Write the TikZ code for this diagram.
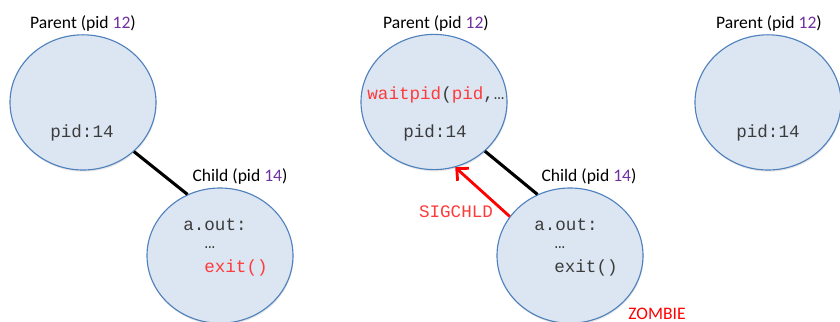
\documentclass[tikz,border=0pt]{standalone}
\usepackage{fontspec}
\setmainfont{Carlito}
\newfontfamily\codefont{Liberation Mono}
\usepackage{tikz}
\usetikzlibrary{arrows.meta,shapes.geometric,shadows}
\definecolor{procfill}{HTML}{DCE6F2}
\definecolor{procline}{HTML}{4F81BD}
\definecolor{pidpurple}{HTML}{7030A0}
\definecolor{sigred}{HTML}{FF0000}
\definecolor{codered}{HTML}{FF3A3A}
\definecolor{codegray}{HTML}{3C3C3C}
\tikzset{
  proc/.style={ellipse,draw=procline,fill=procfill,line width=0.8pt,minimum width=3.65cm,minimum height=3.38cm,inner sep=0pt,
    drop shadow={opacity=0.2,shadow xshift=0.4pt,shadow yshift=-1.2pt}},
  lab/.style={font=\fontsize{12.5}{15}\selectfont,inner sep=0pt},
  code/.style={font=\codefont\fontsize{12.5}{15}\selectfont,text=codegray,inner sep=0pt},
  link/.style={line width=2.2pt,color=black},
}
\newcommand{\pidnum}[1]{\textcolor{pidpurple}{#1}}

\begin{document}
\begin{tikzpicture}[
  sig/.style={-{Straight Barb[length=2.2mm,width=4.2mm,line width=2pt]},line width=2pt,color=sigred},
  redcode/.style={code,text=codered}]
  \useasboundingbox (0,0) rectangle (21,-8.05);
  % before exit
  \node[proc] (par1) at (2.075,-2.56) {};
  \node[proc] (chl1) at (5.5,-6.39) {};
  \node[lab] (plab1) at (2.075,-0.575) {Parent (pid \pidnum{12})};
  \node[lab] (clab1) at (6.0,-4.4) {Child (pid \pidnum{14})};
  \node[code] (pid1) at (2.05,-3.33) {pid:14};
  \node[code] (aout1) at (5.375,-5.625) {a.out:};
  \node[code] (dots1) at (5.25,-6.2) {…};
  \node[redcode] (exit1) at (5.9,-6.7) {exit()};
  \draw[link] (par1.-44) -- (chl1.118);
  % child exits, parent waits
  \node[proc] (par2) at (10.85,-2.55) {};
  \node[proc] (chl2) at (14.25,-6.39) {};
  \node[lab] (plab2) at (10.9,-0.575) {Parent (pid \pidnum{12})};
  \node[lab] (clab2) at (14.725,-4.4) {Child (pid \pidnum{14})};
  \node[code] (wait2) at (10.9,-2.375) {\textcolor{codered}{waitpid}(\textcolor{codered}{pid},…};
  \node[code] (pid2) at (10.875,-3.33) {pid:14};
  \node[code] (aout2) at (14.15,-5.625) {a.out:};
  \node[code] (dots2) at (14.0,-6.2) {…};
  \node[code] (exit2) at (14.65,-6.7) {exit()};
  \draw[link] (par2.-44) -- (chl2.118);
  \draw[sig] (chl2.147) -- (par2.-72);
  \node[redcode] (sigchld) at (11.4,-5.3) {SIGCHLD};
  \node[lab,text=sigred] (zombie) at (16.425,-7.85) {ZOMBIE};
  % after reaping
  \node[proc] (par3) at (19.2,-2.56) {};
  \node[lab] (plab3) at (19.225,-0.575) {Parent (pid \pidnum{12})};
  \node[code] (pid3) at (19.2,-3.33) {pid:14};
\end{tikzpicture}
\end{document}
